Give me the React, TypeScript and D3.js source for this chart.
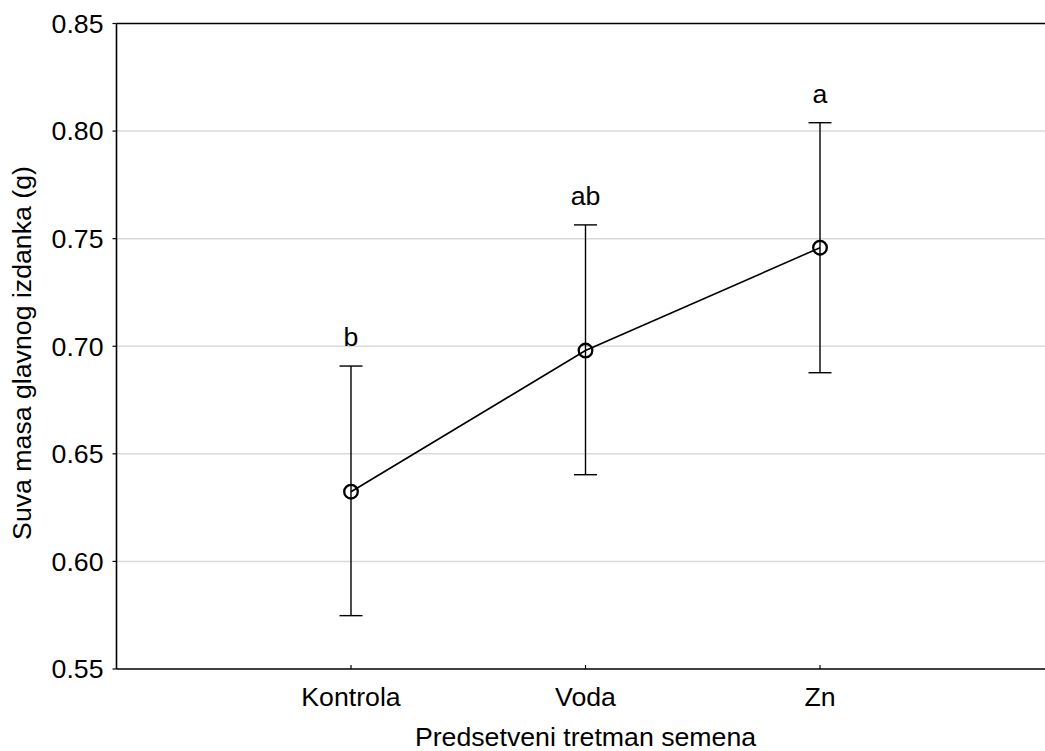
import React from "react";
import * as d3 from "d3";

const categories = ["Kontrola", "Voda", "Zn"];
const means = [0.6324, 0.698, 0.7458];
const upper = [0.6908, 0.7564, 0.8039];
const lower = [0.5748, 0.6403, 0.6877];
const letters = ["b", "ab", "a"];
const yTicks = [0.55, 0.6, 0.65, 0.7, 0.75, 0.8, 0.85];

const W = 1045;
const H = 751;
const left = 116.5;
const top = 23.5;
const bottom = 669;
const slot = 234.5;
const FS = 26.7;

export default function App() {
  const x = d3.scaleLinear().domain([0, 4]).range([left, left + 4 * slot]);
  const y = d3.scaleLinear().domain([0.55, 0.85]).range([bottom, top]);
  const line = d3
    .line<number>()
    .x((_, i) => x(i + 1))
    .y((d) => y(d));
  const font = "'Liberation Sans', Arial, sans-serif";
  return (
    <svg
      width={W}
      height={H}
      style={{ position: "absolute", left: 0, top: 0, background: "#fff", overflow: "hidden" }}
      fontFamily={font}
    >
      <rect x={0} y={0} width={W} height={H} fill="#fff" />
      {yTicks.slice(1, -1).map((t) => (
        <line key={t} x1={left} x2={W} y1={y(t)} y2={y(t)} stroke="#d9d9d9" strokeWidth={1.5} />
      ))}
      {/* axes frame */}
      <line x1={left} x2={W} y1={top} y2={top} stroke="#000" strokeWidth={1.6} />
      <line x1={left} x2={W} y1={bottom} y2={bottom} stroke="#000" strokeWidth={1.6} />
      <line x1={left} x2={left} y1={top} y2={bottom} stroke="#000" strokeWidth={1.6} />
      {yTicks.map((t) => (
        <g key={"yt" + t}>
          <line x1={left - 4} x2={left} y1={y(t)} y2={y(t)} stroke="#000" strokeWidth={1.2} />
          <text x={left - 13} y={y(t)} dy="0.35em" textAnchor="end" fontSize={FS} fill="#000">
            {t.toFixed(2)}
          </text>
        </g>
      ))}
      {categories.map((c, i) => (
        <g key={c}>
          <line x1={x(i + 1)} x2={x(i + 1)} y1={bottom} y2={bottom - 4} stroke="#000" strokeWidth={1.2} />
          <text x={x(i + 1)} y={706} textAnchor="middle" fontSize={FS} fill="#000">
            {c}
          </text>
        </g>
      ))}
      <text x={x(2)} y={746} textAnchor="middle" fontSize={FS} fill="#000">
        Predsetveni tretman semena
      </text>
      <text
        transform={`translate(31,353) rotate(-90)`}
        textAnchor="middle"
        fontSize={FS}
        fill="#000"
      >
        Suva masa glavnog izdanka (g)
      </text>
      {/* error bars */}
      {categories.map((c, i) => (
        <g key={"eb" + c} stroke="#000" strokeWidth={1.4}>
          <line x1={x(i + 1)} x2={x(i + 1)} y1={y(upper[i])} y2={y(lower[i])} />
          <line x1={x(i + 1) - 11.5} x2={x(i + 1) + 11.5} y1={y(upper[i])} y2={y(upper[i])} />
          <line x1={x(i + 1) - 11.5} x2={x(i + 1) + 11.5} y1={y(lower[i])} y2={y(lower[i])} />
        </g>
      ))}
      <path d={line(means) || ""} fill="none" stroke="#000" strokeWidth={1.6} />
      {means.map((m, i) => (
        <circle key={"pt" + i} cx={x(i + 1)} cy={y(m)} r={6.8} fill="none" stroke="#000" strokeWidth={2.3} />
      ))}
      {letters.map((l, i) => (
        <text key={"l" + i} x={x(i + 1)} y={y(upper[i]) - 20} textAnchor="middle" fontSize={FS} fill="#000">
          {l}
        </text>
      ))}
    </svg>
  );
}
